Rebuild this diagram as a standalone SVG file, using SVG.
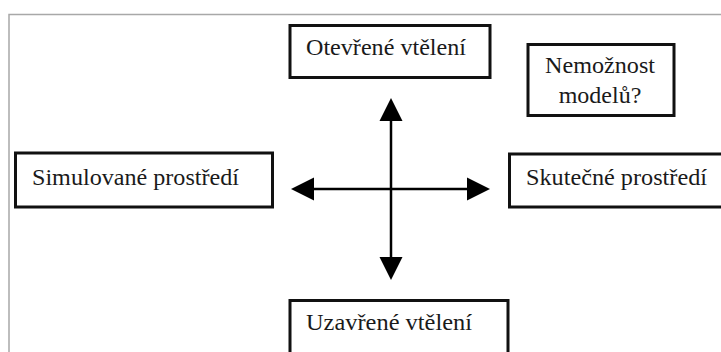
<svg xmlns="http://www.w3.org/2000/svg" width="721" height="352" viewBox="0 0 721 352">
<style>
.frame{fill:none;stroke:#a8a8a8;stroke-width:1.5}
.box{fill:#fff;stroke:#111;stroke-width:3}
.t{font-size:24px;fill:#1a1a1a}
.c{stroke:#000;stroke-width:2.5;fill:none}
.h{fill:#000}
</style>
<rect width="721" height="352" fill="#fff"/>
<path class="frame" d="M9 360 V14.5 H730"/>
<g font-family="Liberation Serif, DejaVu Serif, Times New Roman, serif">
<g id="node-open">
<rect class="box" x="290" y="25.5" width="200" height="52"/>
<text class="t" x="306" y="55" textLength="160" lengthAdjust="spacingAndGlyphs">Otevřené vtělení</text>
</g>
<g id="node-impossible">
<rect class="box" x="528" y="44.5" width="146" height="71"/>
<text class="t" x="600" y="73" text-anchor="middle" textLength="110" lengthAdjust="spacingAndGlyphs">Nemožnost</text>
<text class="t" x="600" y="103" text-anchor="middle">modelů?</text>
</g>
<g id="node-simulated">
<rect class="box" x="15.5" y="153" width="257" height="54"/>
<text class="t" x="32" y="185" textLength="207" lengthAdjust="spacingAndGlyphs">Simulované prostředí</text>
</g>
<g id="node-real">
<rect class="box" x="509.5" y="154" width="230" height="53"/>
<text class="t" x="526" y="185" textLength="181" lengthAdjust="spacingAndGlyphs">Skutečné prostředí</text>
</g>
<g id="node-closed">
<rect class="box" x="290" y="300.5" width="218" height="70"/>
<text class="t" x="306" y="330" textLength="166" lengthAdjust="spacingAndGlyphs">Uzavřené vtělení</text>
</g>
</g>
<g id="connectors">
<line class="c" x1="391" y1="118" x2="391" y2="260"/>
<line class="c" x1="311" y1="189" x2="470" y2="189"/>
<polygon class="h" points="391,98 379.5,121 402.5,121"/>
<polygon class="h" points="391,280 379.5,257 402.5,257"/>
<polygon class="h" points="291,189 314,177.5 314,200.5"/>
<polygon class="h" points="490,189 467,177.5 467,200.5"/>
</g>
</svg>
